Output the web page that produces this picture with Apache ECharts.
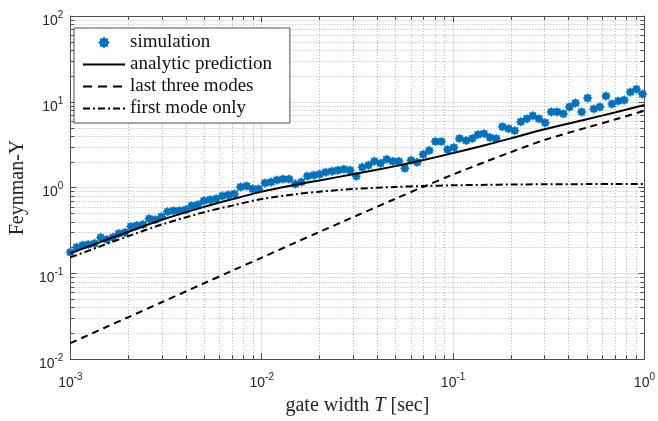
<!DOCTYPE html>
<html><head><meta charset="utf-8">
<script src="https://cdn.jsdelivr.net/npm/echarts@6/dist/echarts.min.js"></script>
<style>html,body{margin:0;padding:0;background:#fff}#c{width:658px;height:421px}</style>
</head><body><div id="c"></div>
<script>
// gate width T [sec] of the simulated points
const simT = [0.00100,0.00108,0.00116,0.00124,0.00134,0.00144,0.00155,0.00167,0.00179,0.00193,
  0.00207,0.00223,0.00240,0.00258,0.00278,0.00299,0.00322,0.00346,0.00372,0.00401,
  0.00431,0.00464,0.00499,0.00537,0.00578,0.00622,0.00669,0.00720,0.00775,0.00834,
  0.00897,0.00965,0.0104,0.0112,0.0120,0.0129,0.0139,0.0150,0.0161,0.0173,
  0.0187,0.0201,0.0216,0.0233,0.0250,0.0269,0.0290,0.0312,0.0335,0.0361,
  0.0388,0.0418,0.0450,0.0484,0.0521,0.0560,0.0603,0.0649,0.0698,0.0751,
  0.0808,0.0870,0.0936,0.101,0.108,0.117,0.126,0.135,0.145,0.156,
  0.168,0.181,0.195,0.210,0.226,0.243,0.261,0.281,0.303,0.326,
  0.350,0.377,0.406,0.436,0.470,0.505,0.544,0.585,0.630,0.677,
  0.729,0.784,0.844,0.908,0.977];
// simulated Feynman-Y
const simY = [0.176,0.201,0.212,0.217,0.223,0.262,0.248,0.262,0.291,0.299,
  0.351,0.360,0.370,0.433,0.422,0.457,0.522,0.536,0.536,0.550,
  0.612,0.628,0.699,0.718,0.737,0.798,0.819,0.842,1.013,1.041,
  0.961,0.961,1.127,1.157,1.220,1.253,1.253,1.097,1.157,1.357,
  1.393,1.431,1.509,1.550,1.591,1.635,1.591,1.357,1.723,1.817,
  2.021,1.916,2.131,2.021,2.021,1.678,2.075,1.967,2.433,2.706,
  3.436,3.436,2.779,2.930,3.721,3.528,3.721,4.138,4.249,3.821,
  3.721,5.116,4.852,4.600,5.843,6.328,6.851,6.328,5.689,7.617,
  7.617,7.223,8.700,9.674,7.617,11.05,8.249,8.700,11.65,9.422,
  10.20,10.47,12.95,14.03,12.28];
// model curves
const curveT     = [0.001,0.0015,0.002,0.003,0.005,0.007,0.01,0.015,0.02,0.03,0.05,0.07,0.1,0.15,0.2,0.3,0.5,0.7,1.0];
const analyticY  = [0.171,0.24,0.303,0.42,0.595,0.73,0.895,1.075,1.21,1.425,1.775,2.09,2.52,3.15,3.74,4.78,6.25,7.5,9.15];
const lastThreeY = [0.0153,0.023,0.0306,0.0459,0.0765,0.107,0.152,0.228,0.303,0.45,0.74,1.02,1.42,2.02,2.58,3.58,5.0,6.2,7.85];
const firstModeY = [0.153,0.214,0.27,0.37,0.515,0.615,0.735,0.835,0.895,0.96,1.015,1.04,1.06,1.075,1.083,1.09,1.095,1.097,1.10];
// axes
const xMin = 0.001, xMax = 1, yMin = 0.01, yMax = 100;
const xMinorTicks = [0.002,0.003,0.004,0.005,0.006,0.007,0.008,0.009,
  0.02,0.03,0.04,0.05,0.06,0.07,0.08,0.09,0.2,0.3,0.4,0.5,0.6,0.7,0.8,0.9];
const yMinorTicks = [0.02,0.03,0.04,0.05,0.06,0.07,0.08,0.09,0.2,0.3,0.4,0.5,0.6,0.7,0.8,0.9,
  2,3,4,5,6,7,8,9,20,30,40,50,60,70,80,90];
const seriesNames = ['simulation','analytic prediction','last three modes','first mode only'];

const BLUE = '#0072BD';
const AXIS = '#4d4d4d';
const starBody = 'M5,0 L3.33,1.38 L3.54,3.54 L1.38,3.33 L0,5 L-1.38,3.33 L-3.54,3.54 L-3.33,1.38 L-5,0 L-3.33,-1.38 L-3.54,-3.54 L-1.38,-3.33 L0,-5 L1.38,-3.33 L3.54,-3.54 L3.33,-1.38 Z';
const star = 'path://' + starBody;
const starLegend = 'path://M-8,-8 M8,8 ' + starBody;

function zip(a, b) { return a.map((v, i) => [v, b[i]]); }
function expLabel(v) { return '{b|10}{s|' + Math.round(Math.log10(v)) + '}'; }
const labelRich = {
  b: {fontFamily: 'Liberation Sans', fontSize: 14, color: '#262626', lineHeight: 18, verticalAlign: 'bottom'},
  s: {fontFamily: 'Liberation Sans', fontSize: 10, color: '#262626', lineHeight: 18, verticalAlign: 'top'}
};

function minorRender(isX) {
  return function (params, api) {
    const cs = params.coordSys;
    const st = {stroke: '#b5b5b5', lineWidth: 1, lineDash: [1, 2]};
    const tk = {stroke: AXIS, lineWidth: 1};
    const ch = [];
    if (isX) {
      const x = Math.round(api.coord([api.value(0), api.value(1)])[0]) + 0.5;
      const y0 = cs.y, y1 = cs.y + cs.height;
      ch.push({type: 'line', shape: {x1: x, y1: y0, x2: x, y2: y1}, style: st});
      ch.push({type: 'line', shape: {x1: x, y1: y1, x2: x, y2: y1 - 4}, style: tk});
      ch.push({type: 'line', shape: {x1: x, y1: y0, x2: x, y2: y0 + 4}, style: tk});
    } else {
      const y = Math.round(api.coord([api.value(0), api.value(1)])[1]) + 0.5;
      const x0 = cs.x, x1 = cs.x + cs.width;
      ch.push({type: 'line', shape: {x1: x0, y1: y, x2: x1, y2: y}, style: st});
      ch.push({type: 'line', shape: {x1: x0, y1: y, x2: x0 + 4, y2: y}, style: tk});
      ch.push({type: 'line', shape: {x1: x1, y1: y, x2: x1 - 4, y2: y}, style: tk});
    }
    return {type: 'group', children: ch, silent: true};
  };
}

const noSym = {opacity: 0};
const chart = echarts.init(document.getElementById('c'), null, {renderer: 'canvas'});
chart.setOption({
  animation: false,
  backgroundColor: '#fff',
  grid: {left: 64, right: 13, top: 16, bottom: 58, containLabel: false},
  legend: {
    orient: 'vertical', left: 74, top: 28,
    backgroundColor: '#fff', borderColor: AXIS, borderWidth: 1, borderRadius: 0,
    padding: [5, 18, 5, 8], itemGap: 3, itemWidth: 42, itemHeight: 14,
    textStyle: {fontFamily: 'Liberation Serif', fontSize: 19, lineHeight: 16, color: '#111'},
    data: [
      {name: seriesNames[0], icon: starLegend},
      {name: seriesNames[1], itemStyle: noSym},
      {name: seriesNames[2], itemStyle: noSym, lineStyle: {type: [9, 6]}},
      {name: seriesNames[3], itemStyle: noSym}
    ]
  },
  xAxis: [{
    type: 'log', logBase: 10, min: xMin, max: xMax,
    name: 'gate width {i|T} [sec]', nameLocation: 'middle', nameGap: 37,
    nameTextStyle: {fontFamily: 'Liberation Serif', fontSize: 20, color: '#262626',
      rich: {i: {fontFamily: 'Liberation Serif', fontStyle: 'italic', fontSize: 20, color: '#262626'}}},
    axisLine: {show: true, lineStyle: {color: AXIS, width: 1}},
    axisTick: {show: true, inside: true, length: 6, lineStyle: {color: AXIS}},
    axisLabel: {formatter: expLabel, rich: labelRich, margin: 13},
    splitLine: {show: true, lineStyle: {color: '#e2e2e2', width: 1}},
    minorTick: {show: false}, minorSplitLine: {show: false}
  }, {
    type: 'log', logBase: 10, min: xMin, max: xMax, position: 'top',
    axisLine: {show: true, lineStyle: {color: AXIS, width: 1}},
    axisTick: {show: true, inside: true, length: 6, lineStyle: {color: AXIS}},
    axisLabel: {show: false}, splitLine: {show: false}
  }],
  yAxis: [{
    type: 'log', logBase: 10, min: yMin, max: yMax,
    name: 'Feynman-Y', nameLocation: 'middle', nameGap: 37, nameRotate: 90,
    nameTextStyle: {fontFamily: 'Liberation Serif', fontSize: 20, color: '#262626'},
    axisLine: {show: true, lineStyle: {color: AXIS, width: 1}},
    axisTick: {show: true, inside: true, length: 6, lineStyle: {color: AXIS}},
    axisLabel: {formatter: expLabel, rich: labelRich, margin: 7, padding: [6, 0, 0, 0]},
    splitLine: {show: true, lineStyle: {color: '#e2e2e2', width: 1}},
    minorTick: {show: false}, minorSplitLine: {show: false}
  }, {
    type: 'log', logBase: 10, min: yMin, max: yMax, position: 'right',
    axisLine: {show: true, lineStyle: {color: AXIS, width: 1}},
    axisTick: {show: true, inside: true, length: 6, lineStyle: {color: AXIS}},
    axisLabel: {show: false}, splitLine: {show: false}
  }],
  series: [
    {type: 'custom', silent: true, renderItem: minorRender(true), xAxisIndex: 0, yAxisIndex: 0,
      data: xMinorTicks.map(v => [v, 1]), encode: {x: 0, y: 1}, z: 1, clip: false},
    {type: 'custom', silent: true, renderItem: minorRender(false), xAxisIndex: 0, yAxisIndex: 0,
      data: yMinorTicks.map(v => [0.01, v]), encode: {x: 0, y: 1}, z: 1, clip: false},
    {name: seriesNames[0], type: 'scatter', data: zip(simT, simY), symbol: star, symbolSize: 9,
      itemStyle: {color: BLUE, borderColor: BLUE, borderWidth: 0.6, opacity: 1}, z: 3},
    {name: seriesNames[1], type: 'line', data: zip(curveT, analyticY), symbol: 'none', smooth: 0.3,
      lineStyle: {color: '#000', width: 2, type: 'solid'}, itemStyle: {color: '#000'}, z: 4},
    {name: seriesNames[2], type: 'line', data: zip(curveT, lastThreeY), symbol: 'none', smooth: 0.3,
      lineStyle: {color: '#000', width: 2, type: [7, 5]}, itemStyle: {color: '#000'}, z: 4},
    {name: seriesNames[3], type: 'line', data: zip(curveT, firstModeY), symbol: 'none', smooth: 0.3,
      lineStyle: {color: '#000', width: 2, type: [7, 3, 2, 3]}, itemStyle: {color: '#000'}, z: 4}
  ]
});
</script></body></html>
